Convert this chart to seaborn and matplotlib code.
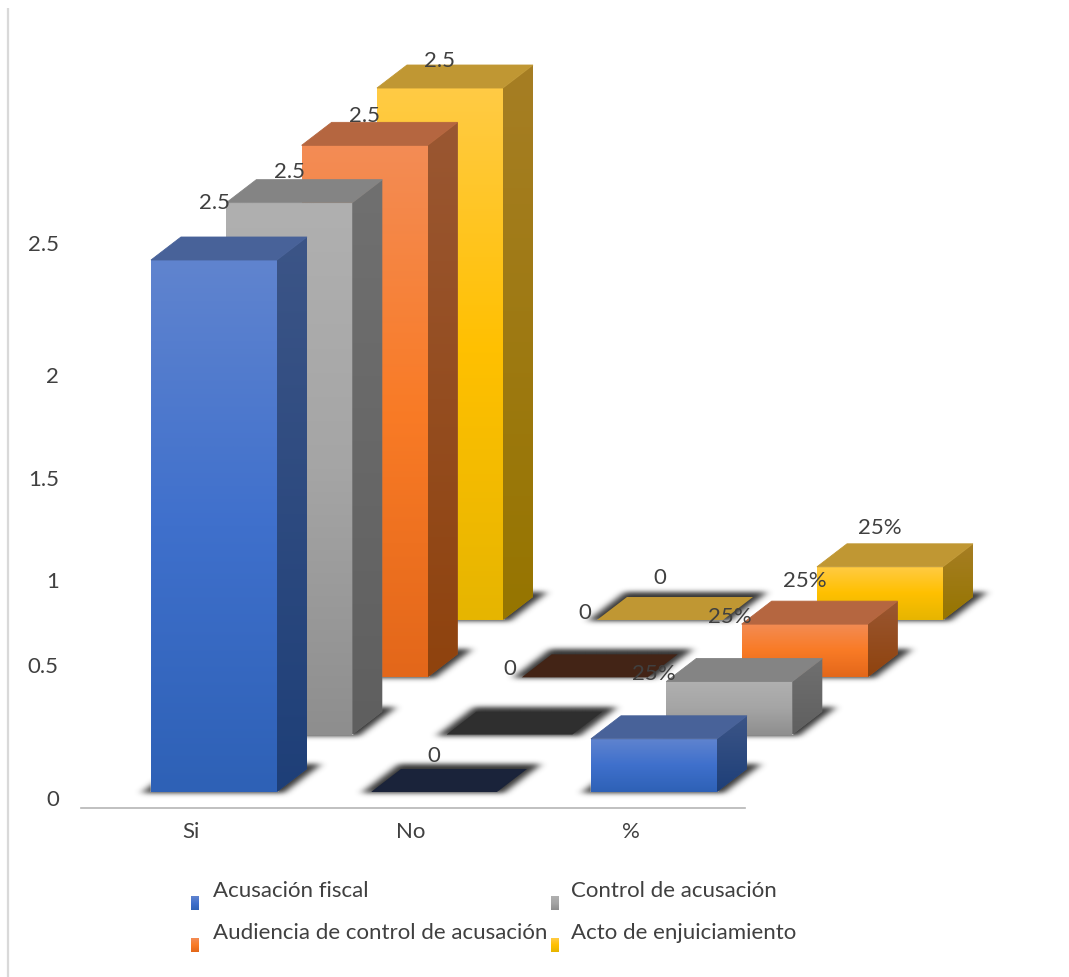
import matplotlib
matplotlib.use("Agg")
import matplotlib.pyplot as plt
import numpy as np
import pandas as pd
import seaborn as sns
from matplotlib.colors import LinearSegmentedColormap
from matplotlib.patches import Polygon

# ---------- data ----------
categories = ["Si", "No", "%"]
series_names = ["Acusación fiscal", "Control de acusación",
                "Audiencia de control de acusación", "Acto de enjuiciamiento"]
acusacion_fiscal = [2.5, 0, 0.25]
control_acusacion = [2.5, 0, 0.25]
audiencia_control = [2.5, 0, 0.25]
acto_enjuiciamiento = [2.5, 0, 0.25]
value_labels = ["2.5", "0", "25%"]
axis_labels = ["2.5", "2", "1.5", "1", "0.5", "0"]

# ---------- style ----------
W, H = 1069, 977
sns.set_theme(style="white")
plt.rcParams["font.family"] = ["Lato", "DejaVu Sans"]
TXT = "#404040"
FS = 16

front_grad = [["#6084CF", "#3F70CC", "#2E61B6"], ["#B0B0B0", "#A5A5A5", "#8E8E8E"],
              ["#F38C55", "#F97B26", "#E3671A"], ["#FFCB45", "#FFC000", "#E6B500"]]
side_grad = [["#3C5587", "#1E3F78"], ["#707070", "#5F5F5F"],
             ["#9A5732", "#8F430E"], ["#A67E24", "#967500"]]
top_col = ["#486299", "#848484", "#B56640", "#C09733"]
zero_col = ["#1A233A", "#2F2F2F", "#432416", "#C09733"]
base_col = ["#4472C4", "#A5A5A5", "#ED7D31", "#FFC000"]

# pixel layout of the pseudo-3D scene
CAT_PX, UNIT_PX = 220.0, 212.8
FIRST_CX, FIRST_BASE = 214.0, 792.0
STEP_X, STEP_Y = 75.33, 57.33
DEPTH_X, DEPTH_Y = 30.0, 23.0
BAR_PX = 126.0
BAR_W = BAR_PX / CAT_PX
# label lift above each bar's front top edge, px: series x category
LIFT = [[57, 36, 65], [31, 66, 64], [29, 64, 43], [27, 42, 39]]

fig = plt.figure(figsize=(W / 100, H / 100), dpi=100, facecolor="white")


def px_axes(left, right, bottom, top):
    return fig.add_axes([left / W, 1 - bottom / H, (right - left) / W, (bottom - top) / H])


# page layer: border line
page = px_axes(0, W, H, 0)
page.set_xlim(0, W)
page.set_ylim(H, 0)
page.axis("off")
page.plot([8, 8], [8, H], color="#D9D9D9", lw=1.6, solid_capstyle="butt")


def gradient(ax, colors, extent, clip=None, z=3):
    cmap = LinearSegmentedColormap.from_list("g", colors)
    img = ax.imshow(np.linspace(0, 1, 256)[:, None], cmap=cmap, extent=extent, origin="upper",
                    aspect="auto", interpolation="bilinear", zorder=z)
    if clip is not None:
        img.set_clip_path(clip)
    else:
        img.set_clip_on(False)
    return img


def blur(a, sigma, axis):
    r = int(3 * sigma)
    k = np.exp(-0.5 * (np.arange(-r, r + 1) / sigma) ** 2)
    k /= k.sum()
    return np.apply_along_axis(lambda m: np.convolve(m, k, mode="same"), axis, a)


def shadow_rgba(pad=32, grow_x=8.0, grow_up=4.0, grow_dn=1.5, sigma_x=4.0, sigma_y=2.4):
    """Soft shadow of a bar footprint on a 1 px grid; row 0 is the back edge."""
    xs = np.arange(-pad, BAR_PX + DEPTH_X + pad)
    ys = np.arange(-pad, DEPTH_Y + pad)[::-1]
    gx, gy = np.meshgrid(xs, ys)
    shear = gy * DEPTH_X / DEPTH_Y
    mask = ((gx - shear >= -grow_x) & (gx - shear <= BAR_PX + grow_x)
            & (gy >= -grow_dn) & (gy <= DEPTH_Y + grow_up)).astype(float)
    mask = blur(blur(mask, sigma_x, 1), sigma_y, 0)
    rgba = np.zeros(mask.shape + (4,))
    rgba[..., :3] = 0x2A / 255
    rgba[..., 3] = mask * 0.95
    return rgba, pad


SHADOW, PAD = shadow_rgba()

# base layer: category axis and irregularly placed value labels
base = px_axes(81, 745, 808, 20)
base.set_xlim(-0.5, 2.518)
base.set_ylim(808, 20)
base.patch.set_alpha(0)
base.set_xticks(range(3), categories)
base.set_yticks([243, 375, 478, 580, 665, 798], axis_labels)
base.tick_params(axis="x", length=0, pad=10, labelsize=FS, labelcolor=TXT)
base.tick_params(axis="y", length=0, pad=16, labelsize=FS, labelcolor=TXT)
sns.despine(ax=base, left=True)
base.spines["bottom"].set_color("#B5B5B5")
base.spines["bottom"].set_linewidth(1.2)

table = pd.DataFrame({"category": categories * 4,
                      "series": np.repeat(series_names, 3),
                      "value": acusacion_fiscal + control_acusacion + audiencia_control + acto_enjuiciamiento})

dx, dy = DEPTH_X / CAT_PX, DEPTH_Y / UNIT_PX
for s in range(3, -1, -1):
    cx = FIRST_CX + STEP_X * s
    bottom = FIRST_BASE - STEP_Y * s
    ax = px_axes(cx - CAT_PX / 2, cx + CAT_PX * 2.5, bottom, bottom - 2.8 * UNIT_PX)
    sub = table[table["series"] == series_names[s]]
    sns.barplot(data=sub, x="category", y="value", order=categories, color=base_col[s],
                width=BAR_W, saturation=1, ax=ax, zorder=2)
    bars = list(ax.containers[0])
    for c, bar in enumerate(bars):
        x0, w, v = bar.get_x(), bar.get_width(), bar.get_height()
        x1 = x0 + w
        foot = [(x0, 0), (x1, 0), (x1 + dx, dy), (x0 + dx, dy)]
        shadow = ax.imshow(SHADOW, extent=[x0 - PAD / CAT_PX, x1 + dx + PAD / CAT_PX,
                                           -PAD / UNIT_PX, dy + PAD / UNIT_PX],
                           aspect="auto", interpolation="bilinear", zorder=1)
        shadow.set_clip_on(False)
        if v > 0:
            ext = [x0, x1, 0, v]
            gradient(ax, front_grad[s], ext, clip=bar, z=3)
            side = Polygon([(x1, 0), (x1 + dx, dy), (x1 + dx, v + dy), (x1, v)], closed=True,
                           fc=side_grad[s][0], ec="none", zorder=2, clip_on=False)
            ax.add_patch(side)
            gradient(ax, side_grad[s], [x1, x1 + dx, 0, v + dy], clip=side, z=3)
            ax.add_patch(Polygon([(x0, v), (x1, v), (x1 + dx, v + dy), (x0 + dx, v + dy)], closed=True,
                                 fc=top_col[s], ec=top_col[s], lw=0.6, zorder=3.5, clip_on=False))
        else:
            ax.add_patch(Polygon(foot, closed=True, fc=zero_col[s], ec="none", zorder=3, clip_on=False))
        ax.annotate(value_labels[c], (x0 + w / 2, v), xytext=(0, LIFT[s][c] * 0.72),
                    textcoords="offset points", ha="center", va="center",
                    fontsize=FS, color=TXT, zorder=5, annotation_clip=False)
    ax.set_xlim(-0.5, 2.5)
    ax.set_ylim(0, 2.8)
    ax.axis("off")

# legend, placed above the scene
top = px_axes(0, W, H, 0)
top.set_xlim(0, W)
top.set_ylim(H, 0)
top.axis("off")
legend_x = [(191, 213), (551, 571), (191, 213), (551, 571)]
legend_y = [(896, 891), (896, 891), (938, 933), (938, 933)]
for s, name in enumerate(series_names):
    (mx, tx), (my, ty) = legend_x[s], legend_y[s]
    gradient(top, front_grad[s], [mx, mx + 8, my + 14, my], z=3)
    top.text(tx, ty, name, ha="left", va="center", fontsize=FS, color=TXT)
top.set_xlim(0, W)
top.set_ylim(H, 0)

fig.savefig("out.png", dpi=100, facecolor="white")
